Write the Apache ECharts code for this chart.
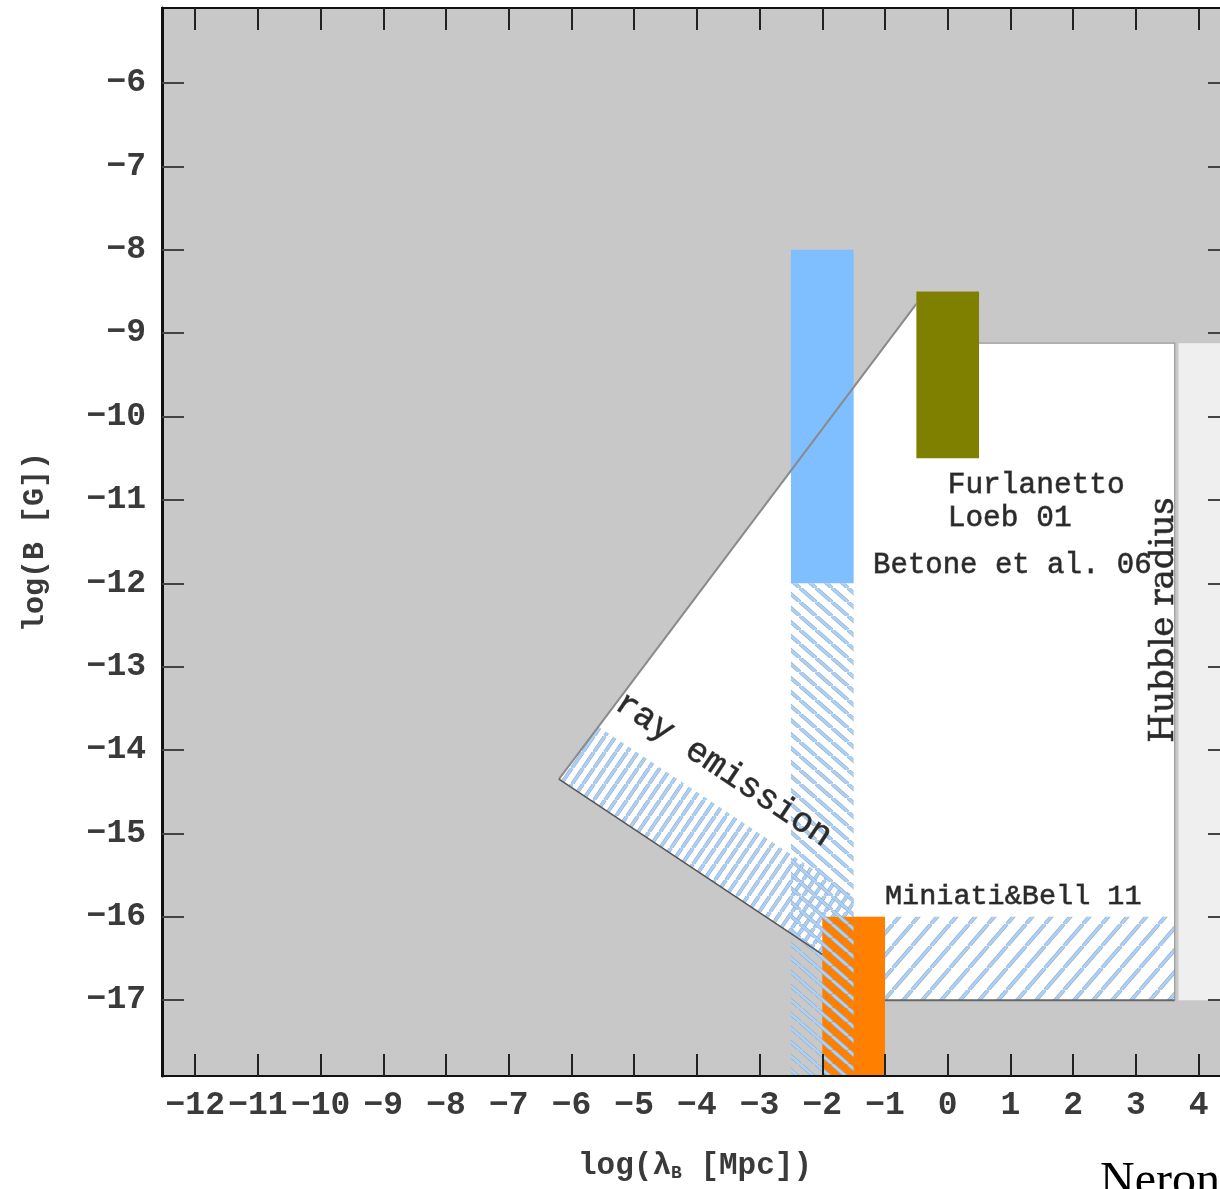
<!DOCTYPE html>
<html>
<head>
<meta charset="utf-8">
<script src="https://cdn.jsdelivr.net/npm/echarts@6/dist/echarts.min.js"></script>
<style>html,body{margin:0;padding:0;background:#fff;overflow:hidden;}#c{width:1220px;height:1189px;}</style>
</head>
<body>
<div id="c"></div>
<script>
// ---------- data ----------
const X_TICKS = [-12,-11,-10,-9,-8,-7,-6,-5,-4,-3,-2,-1,0,1,2,3,4];
const Y_TICKS = [-17,-16,-15,-14,-13,-12,-11,-10,-9,-8,-7,-6];
const X_RANGE = [-12.53, 4.47];
const Y_RANGE = [-17.91, -5.1];

// allowed (white) region
const WHITE_REGION = [[-6.2,-14.35],[-0.5,-8.65],[0.5,-8.65],[0.5,-9.12],[3.62,-9.12],[3.62,-17],[-1.0,-17],[-2.0,-16.45]];
// beyond Hubble radius
const HUBBLE_REGION = [[3.68,-9.12],[4.47,-9.12],[4.47,-17],[3.68,-17]];
// X-ray emission hatched band
const XRAY_BAND = [[-6.2,-14.35],[-5.57,-13.72],[-1.5,-15.75],[-1.5,-16.7]];
// Miniati & Bell hatched region
const MINIATI_HATCH = [[-1.0,-16],[3.62,-16],[3.62,-17],[-1.0,-17]];
// boxes: [x0, x1, y0, y1]
const BERTONE_BOX = [-2.5,-1.5,-12,-8];
const BERTONE_HATCH = [-2.5,-1.5,-17.91,-12];
const FURLANETTO_BOX = [-0.5,0.5,-10.5,-8.5];
const MINIATI_BOX = [-2.0,-1.0,-17.91,-16];
// region edges
const UPPER_EDGE = [[-6.2,-14.35],[-0.5,-8.65]];
const LOWER_EDGE = [[-6.2,-14.35],[-2.0,-16.45]];
const TOP_RIGHT_EDGE = [[0.5,-9.12],[3.62,-9.12],[3.62,-17]];
const BOTTOM_EDGE = [[3.62,-17],[-1.0,-17]];
// annotations
const LABEL_POS = [[0.0,-10.62],[-1.19,-11.78],[-1.0,-15.76],[3.45,-12.44],[-5.25,-13.4]];
const LABEL_TEXT = ['Furlanetto\nLoeb 01','Betone et al. 06','Miniati&Bell 11','Hubble radius','ray emission'];

// ---------- helpers ----------
function hatch(w, h, dir) {
  const c = document.createElement('canvas');
  c.width = w; c.height = h;
  const g = c.getContext('2d');
  const segs = dir === '/'
    ? [[0,h,w,0],[-w,h,0,0],[w,h,2*w,0]]
    : [[0,0,w,h],[-w,0,0,h],[w,0,2*w,h]];
  [['#a2a9b2',3.8],['#a6d2ff',2.6]].forEach(([col,lw]) => {
    g.strokeStyle = col; g.lineWidth = lw;
    segs.forEach(s => { g.beginPath(); g.moveTo(s[0],s[1]); g.lineTo(s[2],s[3]); g.stroke(); });
  });
  return c;
}
const PAT_BAND = {image: hatch(11, 16, '/'), repeat: 'repeat'};
const PAT_STRIP = {image: hatch(16, 14, '\\'), repeat: 'repeat'};
const PAT_MINI = {image: hatch(19, 22, '/'), repeat: 'repeat'};

function polySeries(pts, style, z) {
  return {
    type: 'custom', coordinateSystem: 'cartesian2d', clip: true, silent: true, z: z,
    data: pts,
    renderItem: (params, api) => params.dataIndex === 0
      ? {type: 'polygon', shape: {points: pts.map(p => api.coord(p))}, style: style}
      : null
  };
}
function lineSeries(pts, style, z) {
  return {
    type: 'custom', coordinateSystem: 'cartesian2d', clip: true, silent: true, z: z,
    data: pts,
    renderItem: (params, api) => params.dataIndex === 0
      ? {type: 'polyline', shape: {points: pts.map(p => api.coord(p))}, style: Object.assign({fill: null}, style)}
      : null
  };
}
function boxSeries(b, style, z) {
  const pts = [[b[0],b[2]],[b[1],b[2]],[b[1],b[3]],[b[0],b[3]]];
  return polySeries(pts, style, z);
}

const MONO = '"Liberation Mono", "DejaVu Sans Mono", monospace';
const LABEL_STYLE = [
  {font: '29.5px ' + MONO, align: 'left', verticalAlign: 'top', rot: 0, lh: 33},
  {font: '29px ' + MONO, align: 'left', verticalAlign: 'middle', rot: 0},
  {font: '28.5px ' + MONO, align: 'left', verticalAlign: 'middle', rot: 0},
  {font: '34px "DejaVu Serif", serif', align: 'center', verticalAlign: 'middle', rot: Math.PI / 2},
  {font: '35px ' + MONO, align: 'left', verticalAlign: 'middle', rot: -33.6 * Math.PI / 180}
];

const fmt = v => (v < 0 ? '\u2212' : '') + Math.abs(v);
const TICK_FONT = {fontFamily: MONO, fontWeight: 'bold', fontSize: 33, color: '#3a3a3a'};

const option = {
  backgroundColor: '#fff',
  animation: false,
  grid: {left: 162, width: 1066, top: 8, bottom: 113, outerBoundsMode: 'none', containLabel: false,
    show: true, backgroundColor: '#c8c8c8', borderColor: '#111', borderWidth: 2},
  xAxis: [{
    type: 'value', position: 'bottom', min: X_RANGE[0], max: X_RANGE[1], z: 10,
    axisLine: {show: true, onZero: false, lineStyle: {color: '#111', width: 2}},
    axisTick: {show: true, inside: true, length: 22, customValues: X_TICKS, lineStyle: {color: '#222', width: 2}},
    axisLabel: Object.assign({show: true, customValues: X_TICKS, formatter: fmt, margin: 13, hideOverlap: false}, TICK_FONT),
    splitLine: {show: false},
    name: 'log(λ{sub|B} [Mpc])', nameLocation: 'middle', nameGap: 74,
    nameTextStyle: {fontFamily: MONO, fontWeight: 'bold', fontSize: 31, color: '#3a3a3a',
      rich: {sub: {fontFamily: MONO, fontWeight: 'bold', fontSize: 18, color: '#3a3a3a', verticalAlign: 'bottom', padding: [14,0,0,0]}}}
  }, {
    type: 'value', position: 'top', min: X_RANGE[0], max: X_RANGE[1], z: 10,
    axisLine: {show: true, onZero: false, lineStyle: {color: '#111', width: 2}},
    axisTick: {show: true, inside: true, length: 22, customValues: X_TICKS, lineStyle: {color: '#222', width: 2}},
    axisLabel: {show: false}, splitLine: {show: false}
  }],
  yAxis: [{
    type: 'value', position: 'left', min: Y_RANGE[0], max: Y_RANGE[1], z: 10,
    axisLine: {show: true, onZero: false, lineStyle: {color: '#111', width: 3}},
    axisTick: {show: true, inside: true, length: 22, customValues: Y_TICKS, lineStyle: {color: '#444', width: 2}},
    axisLabel: Object.assign({show: true, customValues: Y_TICKS, formatter: fmt, margin: 16}, TICK_FONT),
    splitLine: {show: false},
    name: 'log(B [G])', nameLocation: 'middle', nameGap: 112, nameRotate: 90,
    nameTextStyle: {fontFamily: MONO, fontWeight: 'bold', fontSize: 30, color: '#3a3a3a'}
  }, {
    type: 'value', position: 'right', min: Y_RANGE[0], max: Y_RANGE[1], z: 10,
    axisLine: {show: true, onZero: false, lineStyle: {color: '#111', width: 2}},
    axisTick: {show: true, inside: true, length: 20, customValues: Y_TICKS, lineStyle: {color: '#444', width: 2}},
    axisLabel: {show: false}, splitLine: {show: false}
  }],
  series: [
    polySeries(WHITE_REGION, {fill: '#ffffff'}, 1),
    polySeries(HUBBLE_REGION, {fill: '#efefef'}, 1),
    polySeries(XRAY_BAND, {fill: PAT_BAND}, 2),
    polySeries(MINIATI_HATCH, {fill: PAT_MINI}, 2),
    boxSeries(BERTONE_BOX, {fill: '#80bfff'}, 3),
    boxSeries(FURLANETTO_BOX, {fill: '#808000'}, 3),
    boxSeries(MINIATI_BOX, {fill: '#ff8000'}, 3),
    boxSeries(BERTONE_HATCH, {fill: PAT_STRIP}, 4),
    lineSeries(UPPER_EDGE, {stroke: '#8a8a8a', lineWidth: 2}, 5),
    lineSeries(LOWER_EDGE, {stroke: '#555', lineWidth: 1.5}, 5),
    lineSeries(TOP_RIGHT_EDGE, {stroke: '#999', lineWidth: 1.2}, 5),
    lineSeries(BOTTOM_EDGE, {stroke: '#666', lineWidth: 2}, 5),
    {
      type: 'custom', coordinateSystem: 'cartesian2d', clip: false, silent: true, z: 6,
      data: LABEL_POS,
      renderItem: (params, api) => {
        const i = params.dataIndex, s = LABEL_STYLE[i];
        const p = api.coord(LABEL_POS[i]);
        return {type: 'text', x: p[0], y: p[1], rotation: s.rot,
          style: {text: LABEL_TEXT[i], font: s.font, fill: '#2a2a2a', stroke: '#6a6a6a', lineWidth: 0.8,
            align: s.align, verticalAlign: s.verticalAlign, lineHeight: s.lh}};
      }
    }
  ],
  graphic: [{type: 'text', left: 1100, top: 1158, silent: true,
    style: {text: 'Neron', font: '48px "Liberation Serif", serif', fill: '#000'}}]
};

const chart = echarts.init(document.getElementById('c'), null, {renderer: 'canvas'});
chart.setOption(option);
</script>
</body>
</html>
